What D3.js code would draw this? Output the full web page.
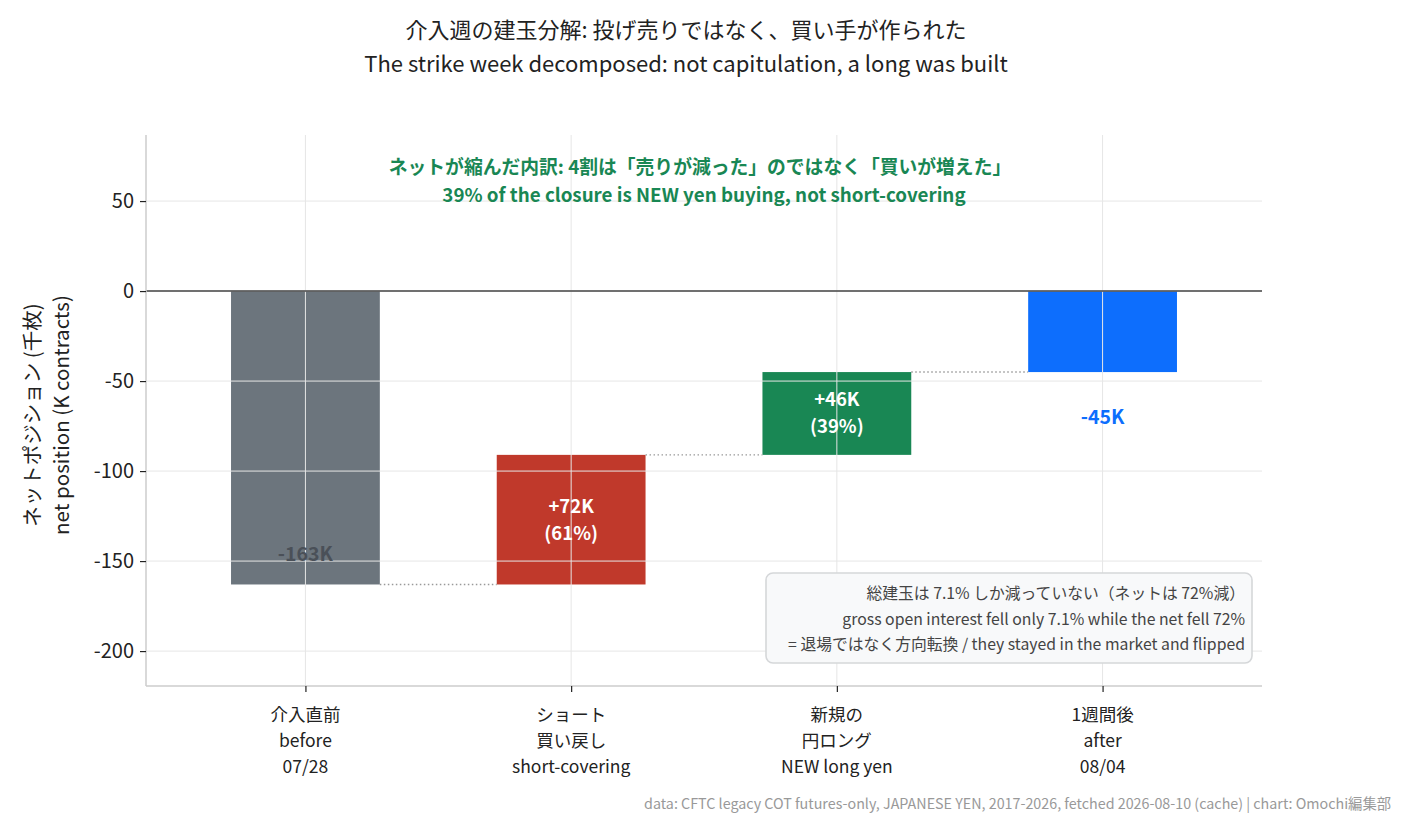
<!DOCTYPE html>
<html><head><meta charset="utf-8">
<script src="https://cdn.jsdelivr.net/npm/d3@7"></script>
<style>
body{margin:0;background:#fff;}
text{font-family:"Noto Sans CJK JP","Noto Sans",sans-serif;}
</style></head>
<body><svg id="c" width="1406" height="827"></svg>
<script>
// ---- data ----
const categories = ["before", "short-covering", "newlong", "after"];
const tickLines = [
  ["介入直前", "before", "07/28"],
  ["ショート", "買い戻し", "short-covering"],
  ["新規の", "円ロング", "NEW long yen"],
  ["1週間後", "after", "08/04"]
];
const startValue = -163;
const deltas = [72, 46];
const endValue = -45;
const shares = [61, 39];
const yTicks = [50, 0, -50, -100, -150, -200];
const barColors = ["#6c757d", "#c0392b", "#198754", "#0d6efd"];

// build waterfall segments
const segs = [];
segs.push({i:0, y0:0, y1:startValue, label:[`${startValue}K`], kind:"total"});
let run = startValue;
deltas.forEach((d,k)=>{
  segs.push({i:k+1, y0:run, y1:run+d, label:[`+${d}K`, `(${shares[k]}%)`], kind:"delta"});
  run += d;
});
segs.push({i:3, y0:0, y1:endValue, label:[`${endValue}K`], kind:"end"});

const svg = d3.select("#c");
const L=146, R=1262, T=135, B=686;
const x = d3.scaleLinear().domain([-0.6, 3.6]).range([L, R]);
const y = d3.scaleLinear().domain([-219.4, 86.7]).range([B, T]);
const step = x(1)-x(0);
const bw = step*0.56;

// bars
svg.append("g").selectAll("rect").data(segs).join("rect")
  .attr("x", d=>x(d.i)-bw/2)
  .attr("width", bw)
  .attr("y", d=>y(Math.max(d.y0,d.y1)))
  .attr("height", d=>Math.abs(y(d.y0)-y(d.y1)))
  .attr("fill", d=>barColors[d.i]);

// grid on top
const grid = svg.append("g");
grid.selectAll("line.h").data(yTicks).join("line")
  .attr("x1", L).attr("x2", R).attr("y1", d=>y(d)).attr("y2", d=>y(d))
  .attr("stroke", "#e6e6e6").attr("stroke-width", 1);
grid.selectAll("line.v").data(d3.range(categories.length)).join("line")
  .attr("y1", T).attr("y2", B).attr("x1", d=>x(d)).attr("x2", d=>x(d))
  .attr("stroke", "#e6e6e6").attr("stroke-width", 1);

// connectors
const conn = [];
for (let k=0;k<segs.length-1;k++) conn.push({i:k, v:segs[k].y1});
svg.append("g").selectAll("line").data(conn).join("line")
  .attr("x1", d=>x(d.i)+bw/2).attr("x2", d=>x(d.i+1)-bw/2)
  .attr("y1", d=>y(d.v)).attr("y2", d=>y(d.v))
  .attr("stroke", "#999").attr("stroke-width", 1.4).attr("stroke-dasharray", "1.5,2.5");

// zero line
svg.append("line").attr("x1", L).attr("x2", R).attr("y1", y(0)).attr("y2", y(0))
  .attr("stroke", "#444").attr("stroke-width", 1.6);

// spines
svg.append("line").attr("x1", L).attr("x2", L).attr("y1", T).attr("y2", B).attr("stroke", "#cccccc").attr("stroke-width", 1.5);
svg.append("line").attr("x1", L).attr("x2", R).attr("y1", B).attr("y2", B).attr("stroke", "#cccccc").attr("stroke-width", 1.5);

// y axis
const yAxis = d3.axisLeft(y).tickValues(yTicks).tickSize(6).tickPadding(6).tickFormat(d=>String(d));
const ya = svg.append("g").attr("transform", `translate(${L},0)`).call(yAxis);
ya.select(".domain").remove();
ya.selectAll(".tick line").attr("stroke", "#222").attr("stroke-width", 1.2);
ya.selectAll(".tick text").attr("font-size", 20).attr("fill", "#222").style("font-family", '"Noto Sans CJK JP",sans-serif');

// x axis
const xAxis = d3.axisBottom(x).tickValues(d3.range(categories.length)).tickSize(6).tickFormat("");
const xa = svg.append("g").attr("transform", `translate(0,${B})`).call(xAxis);
xa.select(".domain").remove();
xa.selectAll(".tick line").attr("stroke", "#222").attr("stroke-width", 1.2);
const xl = svg.append("g");
tickLines.forEach((lines,i)=>{
  lines.forEach((s,j)=>{
    xl.append("text").attr("x", x(i)).attr("y", 721+j*26).attr("text-anchor","middle")
      .attr("font-size", 17.5).attr("fill", "#222").text(s);
  });
});

// bar labels
segs.forEach(d=>{
  if (d.kind==="delta"){
    const cy = (y(d.y0)+y(d.y1))/2;
    d.label.forEach((s,j)=>{
      svg.append("text").attr("x", x(d.i)).attr("y", cy-13.5+j*27+6.5).attr("text-anchor","middle")
        .attr("font-size", 18.5).attr("font-weight", 700).attr("fill","#fff").text(s);
    });
  } else if (d.kind==="total"){
    svg.append("text").attr("x", x(d.i)).attr("y", y(d.y1)-23).attr("text-anchor","middle")
      .attr("font-size", 19.5).attr("font-weight", 700).attr("fill","#4a5058").text(d.label[0]);
  } else {
    svg.append("text").attr("x", x(d.i)).attr("y", y(d.y1)+52).attr("text-anchor","middle")
      .attr("font-size", 19.5).attr("font-weight", 700).attr("fill","#0d6efd").text(d.label[0]);
  }
});

// y label
const yl = svg.append("g").attr("transform", "translate(0,415) rotate(-90)");
yl.append("text").attr("x",0).attr("y",40).attr("text-anchor","middle").attr("font-size",20.5).attr("fill","#222").text("ネットポジション (千枚)");
yl.append("text").attr("x",0).attr("y",69).attr("text-anchor","middle").attr("font-size",20.5).attr("fill","#222").text("net position (K contracts)");

// title
svg.append("text").attr("x",686).attr("y",38).attr("text-anchor","middle").attr("font-size",22).attr("fill","#222").text("介入週の建玉分解: 投げ売りではなく、買い手が作られた");
svg.append("text").attr("x",686).attr("y",72).attr("text-anchor","middle").attr("font-size",22).attr("fill","#222").text("The strike week decomposed: not capitulation, a long was built");

// green annotation
svg.append("text").attr("x",700).attr("y",174).attr("text-anchor","middle").attr("font-size",18.8).attr("font-weight",700).attr("fill","#198754").text("ネットが縮んだ内訳: 4割は「売りが減った」のではなく「買いが増えた」");
svg.append("text").attr("x",704).attr("y",202).attr("text-anchor","middle").attr("font-size",18.8).attr("font-weight",700).attr("fill","#198754").text("39% of the closure is NEW yen buying, not short-covering");

// note box
svg.append("rect").attr("x",766).attr("y",573).attr("width",486).attr("height",90).attr("rx",7)
  .attr("fill","#f8f9fa").attr("stroke","#d5d7d9").attr("stroke-width",1.6);
const notes = ["総建玉は 7.1% しか減っていない（ネットは 72%減）","gross open interest fell only 7.1% while the net fell 72%","= 退場ではなく方向転換 / they stayed in the market and flipped"];
notes.forEach((s,j)=>{
  svg.append("text").attr("x",1245).attr("y",599+j*25.5).attr("text-anchor","end").attr("font-size",15.8).attr("fill","#444").text(s);
});

// footer
svg.append("text").attr("x",1391).attr("y",809).attr("text-anchor","end").attr("font-size",14.3).attr("fill","#999")
  .text("data: CFTC legacy COT futures-only, JAPANESE YEN, 2017-2026, fetched 2026-08-10 (cache) | chart: Omochi編集部");
</script></body></html>
